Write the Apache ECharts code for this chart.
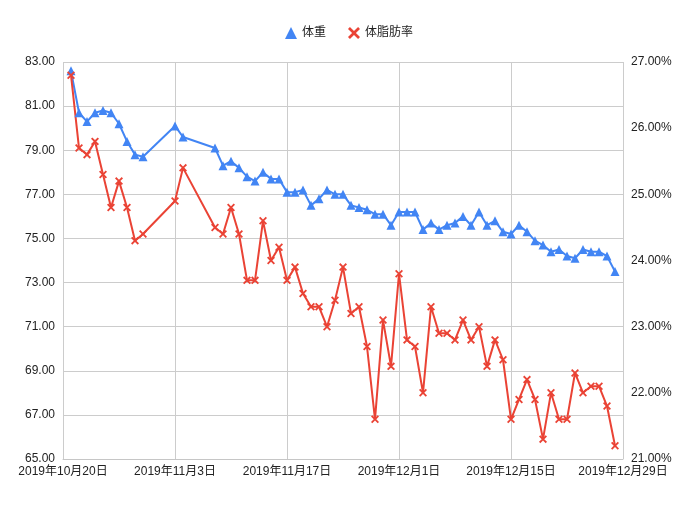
<!DOCTYPE html>
<html>
<head>
<meta charset="utf-8">
<script src="https://cdn.jsdelivr.net/npm/echarts@6/dist/echarts.min.js"></script>
<style>
	html, body { margin: 0; padding: 0; background: #fff; }
	#chart { width: 698px; height: 505px; }
</style>
</head>
<body>
<div id="chart"></div>
<script>
// measurement days
const dates = [
	'2019-10-21', '2019-10-22', '2019-10-23', '2019-10-24', '2019-10-25', '2019-10-26', '2019-10-27',
	'2019-10-28', '2019-10-29', '2019-10-30', '2019-11-03', '2019-11-04', '2019-11-08', '2019-11-09',
	'2019-11-10', '2019-11-11', '2019-11-12', '2019-11-13', '2019-11-14', '2019-11-15', '2019-11-16',
	'2019-11-17', '2019-11-18', '2019-11-19', '2019-11-20', '2019-11-21', '2019-11-22', '2019-11-23',
	'2019-11-24', '2019-11-25', '2019-11-26', '2019-11-27', '2019-11-28', '2019-11-29', '2019-11-30',
	'2019-12-01', '2019-12-02', '2019-12-03', '2019-12-04', '2019-12-05', '2019-12-06', '2019-12-07',
	'2019-12-08', '2019-12-09', '2019-12-10', '2019-12-11', '2019-12-12', '2019-12-13', '2019-12-14',
	'2019-12-15', '2019-12-16', '2019-12-17', '2019-12-18', '2019-12-19', '2019-12-20', '2019-12-21',
	'2019-12-22', '2019-12-23', '2019-12-24', '2019-12-25', '2019-12-26', '2019-12-27', '2019-12-28'
];
// 体重 (kg)
const weight = [
	82.6, 80.7, 80.3, 80.7, 80.8, 80.7, 80.2,
	79.4, 78.8, 78.7, 80.1, 79.6, 79.1, 78.3,
	78.5, 78.2, 77.8, 77.6, 78.0, 77.7, 77.7,
	77.1, 77.1, 77.2, 76.5, 76.8, 77.2, 77.0,
	77.0, 76.5, 76.4, 76.3, 76.1, 76.1, 75.6,
	76.2, 76.2, 76.2, 75.4, 75.7, 75.4, 75.6,
	75.7, 76.0, 75.6, 76.2, 75.6, 75.8, 75.3,
	75.2, 75.6, 75.3, 74.9, 74.7, 74.4, 74.5,
	74.2, 74.1, 74.5, 74.4, 74.4, 74.2, 73.5
];
// 体脂肪率 (%)
const bodyFat = [
	26.8, 25.7, 25.6, 25.8, 25.3, 24.8, 25.2,
	24.8, 24.3, 24.4, 24.9, 25.4, 24.5, 24.4,
	24.8, 24.4, 23.7, 23.7, 24.6, 24.0, 24.2,
	23.7, 23.9, 23.5, 23.3, 23.3, 23.0, 23.4,
	23.9, 23.2, 23.3, 22.7, 21.6, 23.1, 22.4,
	23.8, 22.8, 22.7, 22.0, 23.3, 22.9, 22.9,
	22.8, 23.1, 22.8, 23.0, 22.4, 22.8, 22.5,
	21.6, 21.9, 22.2, 21.9, 21.3, 22.0, 21.6,
	21.6, 22.3, 22.0, 22.1, 22.1, 21.8, 21.2
];

const DAY = 86400000;
const xMin = Date.UTC(2019, 9, 20);
const xMax = Date.UTC(2019, 11, 29);

function toTime(s) {
	const p = s.split('-');
	return Date.UTC(+p[0], +p[1] - 1, +p[2]);
}

// X-shaped marker (thicker arms)
const crossPath = 'path://M1.6,0L5,3.4L8.4,0L10,1.6L6.6,5L10,8.4L8.4,10L5,6.6L1.6,10L0,8.4L3.4,5L0,1.6Z';
const fontFamily = "'Liberation Sans', Arial, 'Noto Sans CJK JP', sans-serif";

var chart = echarts.init(document.getElementById('chart'));

option = {
	backgroundColor: '#fff',
	animation: false,
	textStyle: {
		fontFamily: fontFamily
	},
	legend: {
		top: 22,
		left: 'center',
		itemWidth: 12,
		itemHeight: 12,
		itemGap: 22,
		textStyle: {
			fontSize: 12,
			color: '#222',
			fontFamily: fontFamily
		},
		data: [{
			name: '体重',
			icon: 'triangle'
		}, {
			name: '体脂肪率',
			icon: crossPath
		}]
	},
	grid: {
		left: 63,
		right: 75,
		top: 62,
		bottom: 46
	},
	xAxis: {
		type: 'value',
		min: xMin,
		max: xMax,
		interval: 14 * DAY,
		axisLine: {
			lineStyle: {
				color: '#c6c6c6'
			}
		},
		axisTick: {
			show: false
		},
		axisLabel: {
			color: '#222',
			fontSize: 12,
			margin: 7,
			formatter: function(v) {
				const d = new Date(v);
				return d.getUTCFullYear() + '年' + (d.getUTCMonth() + 1) + '月' + d.getUTCDate() + '日';
			}
		},
		splitLine: {
			show: true,
			lineStyle: {
				color: '#cccccc'
			}
		}
	},
	yAxis: [{
		type: 'value',
		min: 65,
		max: 83,
		interval: 2,
		axisLine: {
			show: false
		},
		axisTick: {
			show: false
		},
		axisLabel: {
			color: '#222',
			fontSize: 12,
			margin: 8,
			formatter: function(v) {
				return v.toFixed(2);
			}
		},
		splitLine: {
			show: true,
			lineStyle: {
				color: '#cccccc'
			}
		}
	}, {
		type: 'value',
		position: 'right',
		min: 21,
		max: 27,
		interval: 1,
		axisLine: {
			show: false
		},
		axisTick: {
			show: false
		},
		axisLabel: {
			color: '#222',
			fontSize: 12,
			margin: 8,
			formatter: function(v) {
				return v.toFixed(2) + '%';
			}
		},
		splitLine: {
			show: false
		}
	}],
	series: [{
		name: '体重',
		type: 'line',
		yAxisIndex: 0,
		data: dates.map((d, i) => [toTime(d), weight[i]]),
		symbol: 'triangle',
		symbolSize: 9,
		lineStyle: {
			width: 2,
			color: '#4285f4'
		},
		itemStyle: {
			color: '#4285f4'
		}
	}, {
		name: '体脂肪率',
		type: 'line',
		yAxisIndex: 1,
		data: dates.map((d, i) => [toTime(d), bodyFat[i]]),
		symbol: crossPath,
		symbolSize: 8,
		lineStyle: {
			width: 2,
			color: '#ea4335'
		},
		itemStyle: {
			color: '#ea4335'
		}
	}]
};

chart.setOption(option);

window.onresize = function() {
	chart.resize();
}
</script>
</body>
</html>
